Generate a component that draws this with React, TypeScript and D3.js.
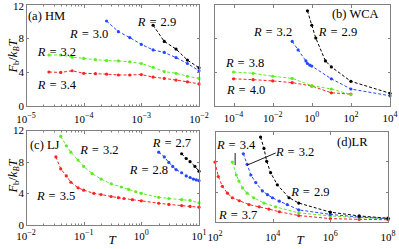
import * as d3 from 'd3';
import React, { useEffect, useRef } from 'react';

const W = 399;
const H = 249;

// (a) HM
const hmT34 = [2.5e-5, 4e-5, 6.3e-5, 1e-4, 1.6e-4, 2.5e-4, 4e-4, 6.3e-4, 1e-3, 1.6e-3, 2.5e-3, 4e-3, 6.3e-3, 1e-2];
const hmF34 = [4.0, 3.95, 4.15, 3.85, 3.8, 3.75, 3.65, 3.65, 3.7, 3.4, 3.25, 3.05, 2.85, 2.6];
const hmT32 = [2.5e-5, 4e-5, 6.3e-5, 1e-4, 1.6e-4, 2.5e-4, 4e-4, 6.3e-4, 1e-3, 1.6e-3, 2.5e-3, 4e-3, 6.3e-3, 1e-2];
const hmF32 = [6.0, 6.0, 5.75, 5.6, 5.45, 5.35, 5.3, 5.2, 5.0, 4.55, 4.05, 3.85, 3.5, 3.25];
const hmT30 = [2.5e-4, 4e-4, 6.3e-4, 1e-3, 1.6e-3, 2.5e-3, 4e-3, 6.3e-3, 1e-2];
const hmF30 = [10.0, 8.75, 8.05, 7.25, 6.6, 6.3, 5.7, 5.0, 4.15];
const hmT29 = [1.6e-3, 2.5e-3, 4e-3, 6.3e-3, 1e-2];
const hmF29 = [9.5, 7.6, 6.7, 5.4, 4.5];

// (b) WCA
const wcaT29 = [0.6, 1, 1.6, 5, 10, 100, 1e4];
const wcaF29 = [11.2, 9.5, 8.0, 5.3, 4.6, 2.9, 1.5];
const wcaT32 = [0.1, 0.2, 0.5, 0.6, 0.8, 1, 10, 100, 1e4];
const wcaF32 = [7.6, 6.6, 5.3, 5.0, 4.8, 4.7, 3.2, 2.0, 1.2];
const wcaT38 = [1e-4, 1e-3, 1e-2, 0.1, 1, 10, 100];
const wcaF38 = [4.0, 3.85, 3.5, 3.25, 2.4, 2.0, 1.35];
const wcaT40 = [1e-4, 1e-3, 1e-2, 0.1, 1, 10, 100];
const wcaF40 = [3.2, 3.1, 2.95, 2.75, 2.35, 1.55, 1.4];

// (c) LJ
const ljT27 = [5, 6, 7, 8.5, 10];
const ljF27 = [9.0, 8.4, 8.0, 7.4, 6.8];
const ljT28 = [2, 2.5, 3, 3.5, 4, 5, 6, 7, 8, 9, 10];
const ljF28 = [9.2, 8.6, 7.9, 7.4, 7.0, 6.6, 6.2, 6.0, 5.8, 5.7, 5.6];
const ljT32 = [0.04, 0.05, 0.06, 0.08, 0.1, 0.14, 0.2, 0.3, 0.45, 0.6, 0.8, 1, 2, 3, 5, 7, 10];
const ljF32 = [11.2, 10.0, 9.2, 8.2, 7.4, 6.5, 5.8, 5.2, 4.8, 4.5, 4.2, 4.0, 3.5, 3.35, 3.2, 3.1, 2.8];
const ljT35 = [0.033, 0.04, 0.05, 0.06, 0.08, 0.1, 0.15, 0.2, 0.3, 0.4, 0.5, 0.7, 1, 2, 3, 5, 7, 10];
const ljF35 = [8.6, 7.1, 6.2, 5.4, 4.7, 4.4, 4.0, 3.85, 3.6, 3.45, 3.35, 3.2, 3.05, 2.75, 2.6, 2.45, 2.35, 2.25];

// (d) LR
const lrT29 = [3.8e3, 5e3, 6.2e3, 8.5e3, 1.45e4, 3.7e4, 8e4, 1e6, 1e7, 1e8];
const lrF29 = [11.2, 9.7, 8.0, 6.5, 4.9, 3.2, 2.5, 1.3, 0.8, 0.5];
const lrT32 = [960, 1.3e3, 1.75e3, 2.6e3, 4.4e3, 6.6e3, 9.8e3, 1.7e4, 3.2e4, 8e4, 1e6, 1e7, 1e8];
const lrF32 = [9.0, 7.6, 6.2, 5.2, 4.1, 3.6, 3.2, 2.75, 2.3, 1.6, 1.0, 0.65, 0.44];
const lrT34 = [400, 550, 680, 900, 1.3e3, 2.2e3, 5e3, 1.26e4, 8e4, 1e6, 1e7, 1e8];
const lrF34 = [7.9, 6.2, 5.4, 4.5, 3.8, 3.2, 2.5, 2.0, 1.2, 0.8, 0.57, 0.44];
const lrT37 = [100, 130, 180, 270, 400, 700, 1.5e3, 3.4e3, 7.4e3, 1.7e4, 8e4, 1e6, 1e7, 1e8];
const lrF37 = [7.9, 6.0, 4.7, 3.8, 3.2, 2.8, 2.3, 2.0, 1.7, 1.35, 0.85, 0.45, 0.35, 0.3];

const yTicks = [0, 4, 8, 12];

const BLACK = '#000000';
const BLUE = '#2747ff';
const GREEN = '#5aee22';
const RED = '#ff2222';
const AXIS = '#808080';
const FONT = '"Liberation Serif", "DejaVu Serif", serif';

type Series = { T: number[]; F: number[]; color: string };
type Label = { T: number; F: number; r?: string; text?: string };
type Pointer = { T1: number; F1: number; T2: number; F2: number };
type Panel = {
  x0: number; x1: number; y0: number; y1: number;
  domain: [number, number];
  ticks: number[];
  minor: boolean;
  yLabels: boolean;
  tickY: number;
  series: Series[];
  labels: Label[];
  pointers: Pointer[];
};

const panels: Panel[] = [
  {
    x0: 26, x1: 199, y0: 4, y1: 106, domain: [1e-5, 1e-2], ticks: [1e-5, 1e-4, 1e-3, 1e-2],
    minor: true, yLabels: true, tickY: 123,
    series: [
      { T: hmT34, F: hmF34, color: RED },
      { T: hmT32, F: hmF32, color: GREEN },
      { T: hmT30, F: hmF30, color: BLUE },
      { T: hmT29, F: hmF29, color: BLACK },
    ],
    labels: [
      { T: 1.08e-5, F: 10.1, text: '(a) HM' },
      { T: 8.7e-4, F: 9.4, r: '2.9' },
      { T: 5.8e-5, F: 8.0, r: '3.0' },
      { T: 1.6e-5, F: 5.9, r: '3.2' },
      { T: 1.6e-5, F: 2.0, r: '3.4' },
    ],
    pointers: [],
  },
  {
    x0: 214, x1: 390, y0: 4, y1: 106, domain: [1e-5, 1e4], ticks: [1e-4, 1e-2, 1, 1e2, 1e4],
    minor: false, yLabels: false, tickY: 122,
    series: [
      { T: wcaT40, F: wcaF40, color: RED },
      { T: wcaT38, F: wcaF38, color: GREEN },
      { T: wcaT32, F: wcaF32, color: BLUE },
      { T: wcaT29, F: wcaF29, color: BLACK },
    ],
    labels: [
      { T: 10.7, F: 10.35, text: '(b) WCA' },
      { T: 1.1e-3, F: 8.2, r: '3.2' },
      { T: 2.3, F: 8.2, r: '2.9' },
      { T: 4.1e-5, F: 4.6, r: '3.8' },
      { T: 4.6e-5, F: 1.4, r: '4.0' },
    ],
    pointers: [],
  },
  {
    x0: 26, x1: 199, y0: 130, y1: 225, domain: [1e-2, 1e1], ticks: [1e-2, 1e-1, 1, 1e1],
    minor: true, yLabels: true, tickY: 240,
    series: [
      { T: ljT35, F: ljF35, color: RED },
      { T: ljT32, F: ljF32, color: GREEN },
      { T: ljT28, F: ljF28, color: BLUE },
      { T: ljT27, F: ljF27, color: BLACK },
    ],
    labels: [
      { T: 0.0117, F: 9.6, text: '(c) LJ' },
      { T: 0.087, F: 9.0, r: '3.2' },
      { T: 1.58, F: 9.85, r: '2.7' },
      { T: 0.63, F: 6.5, r: '2.8' },
      { T: 0.0155, F: 3.1, r: '3.5' },
    ],
    pointers: [],
  },
  {
    x0: 215, x1: 388, y0: 131, y1: 222, domain: [1e2, 1e8], ticks: [1e2, 1e4, 1e6, 1e8],
    minor: false, yLabels: false, tickY: 241,
    series: [
      { T: lrT37, F: lrF37, color: RED },
      { T: lrT34, F: lrF34, color: GREEN },
      { T: lrT32, F: lrF32, color: BLUE },
      { T: lrT29, F: lrF29, color: BLACK },
    ],
    labels: [
      { T: 1.7e6, F: 10.0, text: '(d)LR' },
      { T: 117, F: 9.6, r: '3.4' },
      { T: 1.3e4, F: 8.7, r: '3.2' },
      { T: 4.4e4, F: 3.4, r: '2.9' },
      { T: 138, F: 0.4, r: '3.7' },
    ],
    pointers: [
      { T1: 500, F1: 9.1, T2: 500, F2: 7.5 },
      { T1: 1.27e4, F1: 9.1, T2: 1.3e3, F2: 7.5 },
    ],
  },
];

const App: React.FC = () => {
  const svgRef = useRef<SVGSVGElement>(null);

  useEffect(() => {
    if (!svgRef.current) return;
    const svg = d3.select(svgRef.current);
    svg.selectAll('*').remove();
    svg.append('rect').attr('width', W).attr('height', H).attr('fill', '#fff');

    panels.forEach((p) => {
      const xs = d3.scaleLog().domain(p.domain).range([p.x0, p.x1]);
      const ys = d3.scaleLinear().domain([0, 12]).range([p.y1, p.y0]);
      const g = svg.append('g');

      // data lines + markers
      p.series.forEach((s) => {
        const pts = s.T.map((t, i) => [t, s.F[i]] as [number, number]);
        const line = d3.line<[number, number]>()
          .x((d) => xs(d[0]))
          .y((d) => ys(d[1]));
        g.append('path')
          .datum(pts)
          .attr('d', line)
          .attr('fill', 'none')
          .attr('stroke', s.color)
          .attr('stroke-width', 1)
          .attr('stroke-dasharray', '3,2');
        g.selectAll(null)
          .data(pts)
          .join('circle')
          .attr('cx', (d) => xs(d[0]))
          .attr('cy', (d) => ys(d[1]))
          .attr('r', 1.6)
          .attr('fill', s.color);
      });

      // box
      g.append('rect')
        .attr('x', p.x0 + 0.5).attr('y', p.y0 + 0.5)
        .attr('width', p.x1 - p.x0).attr('height', p.y1 - p.y0)
        .attr('fill', 'none').attr('stroke', AXIS).attr('stroke-width', 1);

      // y ticks both sides
      yTicks.forEach((v) => {
        const y = Math.round(ys(v)) + 0.5;
        g.append('line').attr('x1', p.x0).attr('x2', p.x0 + 3).attr('y1', y).attr('y2', y).attr('stroke', AXIS);
        g.append('line').attr('x1', p.x1 - 2).attr('x2', p.x1 + 1).attr('y1', y).attr('y2', y).attr('stroke', AXIS);
        if (p.yLabels) {
          g.append('text')
            .attr('x', p.x0 - 2).attr('y', Math.max(ys(v) + 4, 10))
            .attr('text-anchor', 'end')
            .attr('font-size', 11).attr('font-family', FONT)
            .text(String(v));
        }
      });

      // x ticks
      const minors: number[] = [];
      if (p.minor) {
        const lo = Math.round(Math.log10(p.domain[0]));
        const hi = Math.round(Math.log10(p.domain[1]));
        for (let e = lo; e < hi; e++) for (let k = 2; k <= 9; k++) minors.push(k * Math.pow(10, e));
      }
      minors.forEach((t) => {
        const x = Math.round(xs(t)) + 0.5;
        g.append('line').attr('x1', x).attr('x2', x).attr('y1', p.y1).attr('y2', p.y1 - 1.5).attr('stroke', AXIS);
        g.append('line').attr('x1', x).attr('x2', x).attr('y1', p.y0 + 1).attr('y2', p.y0 + 2.5).attr('stroke', AXIS);
      });
      p.ticks.forEach((t) => {
        const x = Math.round(xs(t)) + 0.5;
        g.append('line').attr('x1', x).attr('x2', x).attr('y1', p.y1).attr('y2', p.y1 - 3).attr('stroke', AXIS);
        g.append('line').attr('x1', x).attr('x2', x).attr('y1', p.y0 + 1).attr('y2', p.y0 + 4).attr('stroke', AXIS);
        const e = Math.round(Math.log10(t));
        const txt = g.append('text')
          .attr('x', xs(t)).attr('y', p.tickY)
          .attr('text-anchor', 'middle')
          .attr('font-size', 11).attr('font-family', FONT);
        txt.append('tspan').text('10');
        txt.append('tspan').attr('dy', -5).attr('font-size', 8).text(e < 0 ? '\u2212' + Math.abs(e) : String(e));
      });

      // pointers
      p.pointers.forEach((q) => {
        g.append('line')
          .attr('x1', xs(q.T1)).attr('y1', ys(q.F1))
          .attr('x2', xs(q.T2)).attr('y2', ys(q.F2))
          .attr('stroke', '#000').attr('stroke-width', 0.9);
      });

      // labels
      p.labels.forEach((l) => {
        const t = g.append('text')
          .attr('x', xs(l.T)).attr('y', ys(l.F))
          .attr('font-size', 12.5).attr('font-family', FONT).attr('fill', '#000');
        if (l.text) {
          t.text(l.text);
        } else {
          t.append('tspan').attr('font-style', 'italic').text('R');
          t.append('tspan').attr('dx', 4).text('=');
          t.append('tspan').attr('dx', 4).text(l.r as string);
        }
      });
    });

    // y axis labels
    [56, 176].forEach((cy) => {
      const t = svg.append('text')
        .attr('transform', `translate(17,${cy}) rotate(-90)`)
        .attr('text-anchor', 'middle')
        .attr('font-size', 12.5).attr('font-family', FONT);
      t.append('tspan').attr('font-style', 'italic').text('F');
      t.append('tspan').attr('dy', 2).attr('font-size', 8.5).text('b');
      t.append('tspan').attr('dy', -2).text('/');
      t.append('tspan').attr('font-style', 'italic').text('k');
      t.append('tspan').attr('dy', 2).attr('font-size', 8.5).attr('font-style', 'italic').text('B');
      t.append('tspan').attr('dy', -2).attr('font-style', 'italic').text('T');
    });

    // x axis labels
    [112, 300].forEach((cx) => {
      svg.append('text')
        .attr('x', cx).attr('y', 244)
        .attr('text-anchor', 'middle')
        .attr('font-size', 13).attr('font-style', 'italic').attr('font-family', FONT)
        .text('T');
    });
  }, []);

  return (
    <svg
      ref={svgRef}
      width={W}
      height={H}
      style={{ position: 'absolute', left: 0, top: 0 }}
    />
  );
};

export default App;
